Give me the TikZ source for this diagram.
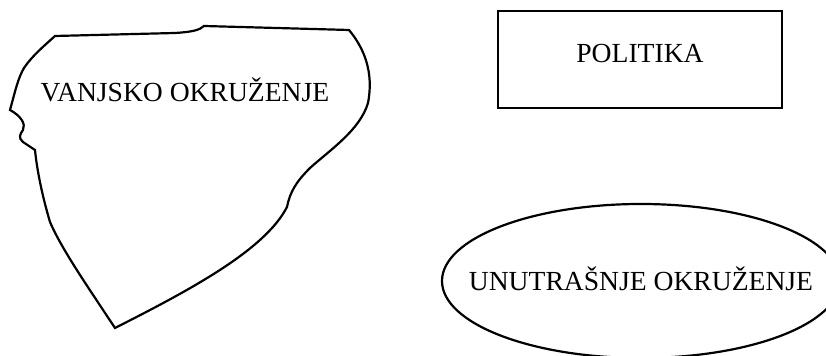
\documentclass[tikz,border=0pt]{standalone}
\usepackage{fontspec}
\setmainfont{Liberation Serif}

\begin{document}
\begin{tikzpicture}[x=0.5pt, y=-0.5pt, line width=1.1pt,
  every node/.style={font=\fontsize{13.8}{16}\selectfont, inner sep=0pt, outer sep=0pt, text height=9.3pt},
  okvir/.style={draw, rectangle, minimum width=142pt, minimum height=48.5pt, text depth=5.8pt}]
\useasboundingbox (0,0) rectangle (826,356);

% vanjsko okruzenje
\draw (55,36) -- (175,33) .. controls (192,32) and (200,30) .. (204,26) -- (349,30)
  .. controls (364,48) and (374,72) .. (368,103)
  .. controls (360,130) and (330,150) .. (310,168)
  .. controls (296,182) and (290,192) .. (287,207)
  .. controls (265,250) and (190,290) .. (115,328)
  .. controls (90,290) and (62,250) .. (50,222)
  .. controls (42,195) and (37,170) .. (35,150)
  -- (23,142) .. controls (18,138) and (20,134) .. (23,130)
  .. controls (26,124) and (21,116) .. (10,110)
  .. controls (15,92) and (18,78) .. (24,68)
  .. controls (32,56) and (44,46) .. (55,36) -- cycle;
\node[anchor=base] (vanjsko) at (185,101.5) {VANJSKO OKRUŽENJE};

% politika
\node[okvir] (politika) at (640,59.5) {POLITIKA};

% unutrasnje okruzenje
\node[text depth=0pt] (unutrasnje) at (641,281) {UNUTRAŠNJE OKRUŽENJE};
\draw (unutrasnje.center) ellipse [x radius=99.5pt, y radius=38.5pt];
\end{tikzpicture}
\end{document}
